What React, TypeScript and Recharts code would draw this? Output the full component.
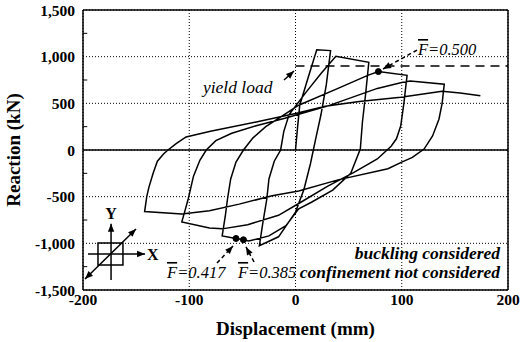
import {
  ComposedChart,
  Line,
  XAxis,
  YAxis,
  CartesianGrid,
  ReferenceLine,
  ReferenceDot,
  ReferenceArea,
} from "recharts";

type Pt = [number, number];

// hysteresis loop, branch by branch (displacement mm, reaction kN)
const initialLoad: Pt[] = [[0, 0], [2, 250], [4, 480], [12, 780], [20, 1075]];
const unload1: Pt[] = [[33, 1065], [29, 700], [24, 380], [19, 120], [14, -150], [8, -420], [0, -665], [-16, -930], [-34, -1025]];
const reload1: Pt[] = [[-31, -800], [-27, -525], [-25, -310], [-20, -120], [-14, 0], [-11, 200], [-6, 380], [10, 620], [24, 820], [38, 1005]];
const unload2: Pt[] = [[69, 940], [66, 600], [63, 300], [61, 10], [52, -250], [35, -430], [15, -560], [3, -630], [-9, -810], [-25, -920], [-44, -975], [-49, -962], [-56, -948], [-69, -920]];
const reload2: Pt[] = [[-66, -700], [-64, -525], [-61, -310], [-56, -130], [-49, 0], [-40, 130], [-28, 250], [-16, 340], [3, 480], [40, 660], [68, 800], [78, 840]];
const unload3: Pt[] = [[105, 800], [102, 500], [99, 257], [95, 120], [90, 40], [77, -96], [55, -240], [30, -390], [5, -560], [-16, -700], [-45, -800], [-69, -845], [-81, -835], [-107, -770]];
const reload3: Pt[] = [[-104, -650], [-101, -525], [-96, -280], [-90, -110], [-84, 0], [-75, 100], [-60, 180], [-37, 260], [-10, 340], [30, 470], [77, 660], [101, 725], [108, 740]];
const unload4: Pt[] = [[140, 705], [138, 500], [135, 330], [129, 150], [121, 10], [110, -80], [100, -130], [87, -200], [40, -320], [3, -440], [-22, -490], [-53, -580], [-81, -650], [-107, -685], [-142, -660]];
const reload4: Pt[] = [[-140, -500], [-138, -400], [-134, -250], [-130, -120], [-124, -40], [-120, 0], [-112, 70], [-103, 140], [-80, 200], [-37, 300], [0, 390], [28, 470], [60, 520], [99, 565], [138, 630], [155, 610], [174, 580]];

const branches = [initialLoad, unload1, reload1, unload2, reload2, unload3, reload3, unload4, reload4];
const curve = branches.flat().map(([x, y]) => ({ x, y }));

const markers: Pt[] = [[78, 840], [-56, -948], [-49, -962]];
const yieldLoad = 900;

const xTicks = [-200, -100, 0, 100, 200];
const yTicks = [-1500, -1000, -500, 0, 500, 1000, 1500];
const yMinor = [-1250, -750, -250, 250, 750, 1250];

// annotation arrows: [from, to]
const arrows: { from: Pt; to: Pt; dashed?: boolean; both?: boolean }[] = [
  { from: [-10.8, 750], to: [-1.4, 846] },
  { from: [114.4, 1071], to: [82.4, 868], dashed: true },
  { from: [-73.9, -1211], to: [-58.8, -1029], dashed: true },
  { from: [-39, -1200], to: [-46.6, -1039], dashed: true },
  // axis symbol
  { from: [-173.6, -1393], to: [-173.6, -790] },
  { from: [-195.3, -1114], to: [-141.6, -1114] },
  { from: [-198.1, -1382], to: [-150.1, -846], both: true },
];

const serif = "'Liberation Serif', 'Times New Roman', serif";

const notes: { text: string; at: Pt; anchor: "start" | "end" | "middle"; bar?: boolean; size: number; weight: number; italic: boolean }[] = [
  { text: "=0.500", at: [115.3, 1018], anchor: "start", bar: true, size: 16.5, weight: 400, italic: true },
  { text: "=0.417", at: [-120.9, -1371], anchor: "start", bar: true, size: 16.5, weight: 400, italic: true },
  { text: "=0.385", at: [-54.1, -1371], anchor: "start", bar: true, size: 16.5, weight: 400, italic: true },
  { text: "yield load", at: [-87.1, 611], anchor: "start", size: 17.5, weight: 400, italic: true },
  { text: "buckling considered", at: [192.5, -1168], anchor: "end", size: 17.5, weight: 700, italic: true },
  { text: "confinement not considered", at: [192.5, -1371], anchor: "end", size: 17.5, weight: 700, italic: true },
  { text: "X", at: [-139.8, -1178], anchor: "start", size: 16, weight: 700, italic: false },
  { text: "Y", at: [-173.6, -739], anchor: "middle", size: 16, weight: 700, italic: false },
];

const arrowShape = (dashed?: boolean, both?: boolean) => (p: any) => {
  const { x1, y1, x2, y2 } = p;
  const a = Math.atan2(y2 - y1, x2 - x1);
  const head = (hx: number, hy: number, ang: number) => {
    const L = 8, W = 3.2;
    const bx = hx - L * Math.cos(ang), by = hy - L * Math.sin(ang);
    return `${hx},${hy} ${bx - W * Math.sin(ang)},${by + W * Math.cos(ang)} ${bx + W * Math.sin(ang)},${by - W * Math.cos(ang)}`;
  };
  return (
    <g>
      <line x1={x1} y1={y1} x2={x2} y2={y2} stroke="#000" strokeWidth={1.5} strokeDasharray={dashed ? "4 3" : undefined} />
      <polygon points={head(x2, y2, a)} fill="#000" />
      {both && <polygon points={head(x1, y1, a + Math.PI)} fill="#000" />}
    </g>
  );
};

const noteShape = (n: (typeof notes)[number]) => (p: any) => (
  <text
    x={p.cx}
    y={p.cy}
    textAnchor={n.anchor}
    fontFamily={serif}
    fontSize={n.size}
    fontWeight={n.weight}
    fontStyle={n.italic ? "italic" : "normal"}
    fill="#000"
  >
    {n.bar && <tspan style={{ textDecoration: "overline" }}>F</tspan>}
    {n.text}
  </text>
);

const tickStyle = { fill: "#000", fontSize: 15.5, fontWeight: 700, fontFamily: serif };

export default function App() {
  return (
    <div style={{ position: "absolute", left: 0, top: 0, width: 521, height: 342, background: "#fff", fontFamily: serif }}>
      <style>{`svg text { font-family: 'Liberation Serif', 'Times New Roman', serif; }`}</style>
      <ComposedChart
        width={521}
        height={342}
        data={curve}
        margin={{ top: 10, right: 13, bottom: 0, left: 0 }}
      >
        <CartesianGrid stroke="#000" strokeDasharray="1 2" strokeWidth={1} />
        <XAxis
          type="number"
          dataKey="x"
          domain={[-200, 200]}
          ticks={xTicks}
          tick={tickStyle}
          tickLine={false}
          tickSize={4}
          tickMargin={0}
          axisLine={{ stroke: "#000", strokeWidth: 1.5 }}
          height={52}
          label={{ value: "Displacement (mm)", position: "insideBottom", offset: 7, fill: "#000", fontSize: 19, fontWeight: 700, fontFamily: serif }}
        />
        <YAxis
          type="number"
          domain={[-1500, 1500]}
          ticks={yTicks}
          tick={tickStyle}
          tickFormatter={(v: number) => v.toLocaleString("en-US")}
          tickLine={false}
          axisLine={{ stroke: "#000", strokeWidth: 1.5 }}
          width={83}
          label={{
            content: (props: any) => {
              const vb = props.viewBox;
              const cx = vb.x + 20;
              const cy = vb.y + vb.height / 2;
              return (
                <text x={cx} y={cy} transform={`rotate(-90 ${cx} ${cy})`} textAnchor="middle" fontFamily={serif} fontSize={19} fontWeight={700} fill="#000">
                  Reaction (kN)
                </text>
              );
            },
          }}
        />
        <ReferenceLine y={0} stroke="#000" strokeWidth={1.5} />
        <ReferenceLine y={1500} stroke="#000" strokeWidth={1.5} />
        <ReferenceLine x={200} stroke="#000" strokeWidth={1.5} />
        {yMinor.map((v) => (
          <ReferenceLine key={`t${v}`} segment={[{ x: -200, y: v }, { x: -196, y: v }]} stroke="#000" strokeWidth={1} />
        ))}
        <ReferenceLine
          segment={[{ x: 0, y: yieldLoad }, { x: 200, y: yieldLoad }]}
          stroke="#000"
          strokeWidth={1.6}
          strokeDasharray="9 6"
        />
        <Line
          type="linear"
          dataKey="y"
          stroke="#000"
          strokeWidth={1.5}
          dot={false}
          isAnimationActive={false}
        />
        {markers.map(([x, y], i) => (
          <ReferenceDot key={`m${i}`} x={x} y={y} r={3} fill="#000" stroke="#000" />
        ))}
        {arrows.map((a, i) => (
          <ReferenceLine
            key={`a${i}`}
            segment={[{ x: a.from[0], y: a.from[1] }, { x: a.to[0], y: a.to[1] }]}
            shape={arrowShape(a.dashed, a.both)}
          />
        ))}
        <ReferenceArea x1={-185.9} x2={-162.4} y1={-1232} y2={-996} fill="none" stroke="#000" strokeWidth={1.5} fillOpacity={0} />
        {notes.map((n, i) => (
          <ReferenceDot key={`n${i}`} x={n.at[0]} y={n.at[1]} r={0} shape={noteShape(n)} />
        ))}
      </ComposedChart>
    </div>
  );
}
